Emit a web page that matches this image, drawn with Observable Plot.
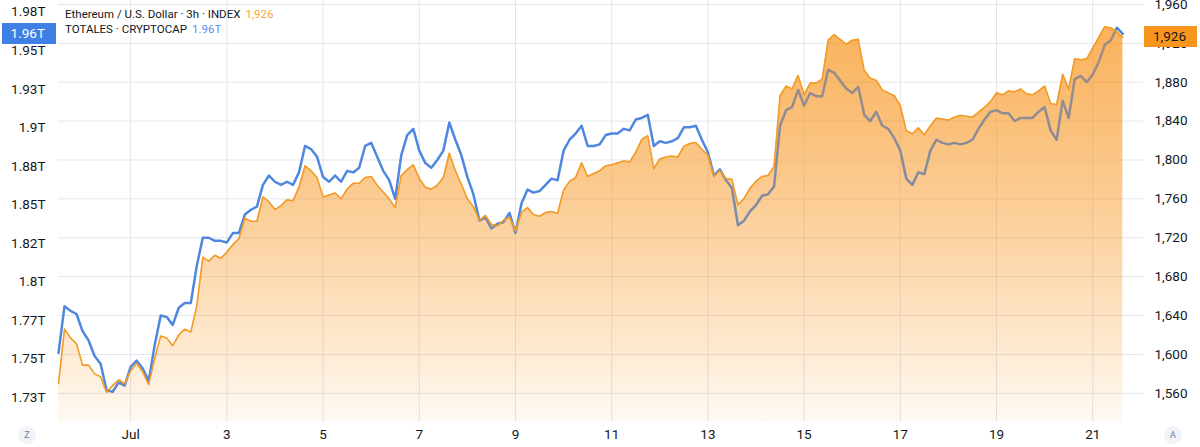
<!DOCTYPE html>
<html>
<head>
<meta charset="utf-8">
<script src="https://cdn.jsdelivr.net/npm/d3@7"></script>
<script src="https://cdn.jsdelivr.net/npm/@observablehq/plot@0.6"></script>
<style>
  body { margin: 0; background: #fff; overflow: hidden; }
  #wrap { position: relative; width: 1200px; height: 447px; font-family: Roboto, sans-serif; }
  #chart svg { display: block; }
  .legend { position: absolute; left: 65px; top: 7px; font-size: 11.5px; line-height: 15px; color: #131722; white-space: nowrap; }
  .legend span { margin-left: 5px; }
  .tag { position: absolute; height: 21px; line-height: 21px; font-size: 13.5px; box-sizing: border-box; }
  .icon { position: absolute; width: 18px; height: 18px; border-radius: 9px; background: #f0f3fa; color: #787b86;
          font-size: 9px; line-height: 18px; text-align: center; }
</style>
</head>
<body>
<div id="wrap">
  <div id="chart"></div>
</div>
<script>
// 3h bars, from Jun 29 12:00 UTC
const start = Date.UTC(2023, 5, 29, 12)
const step = 3 * 3600 * 1000

// Ethereum / U.S. Dollar (right scale)
const ethValues = [
  1570, 1626, 1617, 1611, 1589, 1589, 1580, 1577, 1561, 1568,
  1574, 1570, 1583, 1591, 1582, 1569, 1596, 1619, 1617, 1609,
  1620, 1626, 1623, 1650, 1700, 1696, 1702, 1699, 1705, 1713,
  1719, 1740, 1737, 1737, 1762, 1757, 1749, 1753, 1759, 1758,
  1772, 1794, 1789, 1782, 1762, 1764, 1766, 1760, 1770, 1776,
  1776, 1782, 1783, 1774, 1767, 1760, 1751, 1784, 1790, 1795,
  1781, 1772, 1770, 1774, 1782, 1807, 1789, 1775, 1760, 1752,
  1738, 1743, 1734, 1732, 1738, 1741, 1727, 1746, 1751, 1744,
  1742, 1746, 1747, 1745, 1769, 1778, 1782, 1797, 1783, 1786,
  1789, 1794, 1795, 1797, 1799, 1798, 1808, 1821, 1825, 1791,
  1801, 1803, 1804, 1803, 1814, 1817, 1818, 1811, 1805, 1783,
  1789, 1781, 1780, 1754, 1760, 1771, 1778, 1783, 1784, 1793,
  1866, 1876, 1873, 1887, 1867, 1879, 1879, 1883, 1923, 1929,
  1924, 1919, 1923, 1924, 1892, 1884, 1882, 1872, 1869, 1866,
  1856, 1830, 1827, 1833, 1826, 1835, 1843, 1842, 1841, 1844,
  1846, 1845, 1844, 1849, 1854, 1860, 1869, 1867, 1871, 1870,
  1873, 1868, 1867, 1871, 1876, 1858, 1857, 1888, 1873, 1904,
  1903, 1904, 1915, 1926, 1937, 1936, 1932, 1926
]

// TOTALES crypto market cap, in trillions (left scale)
const totalValues = [
  1.756, 1.786, 1.783, 1.781, 1.770, 1.764, 1.754, 1.749, 1.732, 1.731,
  1.737, 1.735, 1.747, 1.751, 1.746, 1.738, 1.761, 1.780, 1.779, 1.774,
  1.785, 1.788, 1.788, 1.812, 1.830, 1.830, 1.828, 1.828, 1.827, 1.833,
  1.833, 1.845, 1.848, 1.850, 1.864, 1.870, 1.866, 1.864, 1.866, 1.864,
  1.872, 1.889, 1.887, 1.882, 1.869, 1.866, 1.870, 1.866, 1.873, 1.872,
  1.875, 1.889, 1.891, 1.882, 1.873, 1.867, 1.855, 1.883, 1.896, 1.900,
  1.886, 1.878, 1.875, 1.880, 1.886, 1.904, 1.893, 1.883, 1.869, 1.858,
  1.841, 1.843, 1.836, 1.839, 1.840, 1.846, 1.833, 1.852, 1.861, 1.859,
  1.860, 1.864, 1.868, 1.867, 1.886, 1.893, 1.897, 1.902, 1.889, 1.889,
  1.890, 1.896, 1.897, 1.897, 1.900, 1.899, 1.906, 1.907, 1.909, 1.889,
  1.892, 1.891, 1.892, 1.894, 1.901, 1.901, 1.902, 1.893, 1.885, 1.870,
  1.874, 1.867, 1.862, 1.838, 1.841, 1.847, 1.851, 1.857, 1.858, 1.863,
  1.902, 1.912, 1.914, 1.925, 1.915, 1.923, 1.921, 1.921, 1.938, 1.936,
  1.931, 1.926, 1.923, 1.927, 1.909, 1.905, 1.911, 1.902, 1.900, 1.894,
  1.886, 1.868, 1.864, 1.872, 1.871, 1.886, 1.893, 1.891, 1.890, 1.891,
  1.890, 1.891, 1.893, 1.900, 1.906, 1.911, 1.912, 1.910, 1.910, 1.905,
  1.907, 1.907, 1.907, 1.911, 1.914, 1.899, 1.893, 1.918, 1.907, 1.932,
  1.934, 1.930, 1.935, 1.943, 1.954, 1.957, 1.965, 1.961
]

const dayTicks = [1, 3, 5, 7, 9, 11, 13, 15, 17, 19, 21]
const ethTicks = [1560, 1600, 1640, 1680, 1720, 1760, 1800, 1840, 1880, 1920, 1960]
const totalTickValues = [1.727, 1.752, 1.777, 1.802, 1.826, 1.851, 1.876, 1.901, 1.925, 1.950, 1.975]
const totalTickLabels = ['1.73T', '1.75T', '1.77T', '1.8T', '1.82T', '1.85T', '1.88T', '1.9T', '1.93T', '1.95T', '1.98T']

// left scale sits on the right one: 1.73T <-> 1,560 and 1.98T <-> 1,960
const totalToEth = t => 1560 + (t - 1.73) * 1600

const eth = ethValues.map((value, i) => ({date: new Date(start + i * step), value}))
const total = totalValues.map((value, i) => ({date: new Date(start + i * step), value}))
const tickDates = dayTicks.map(d => new Date(Date.UTC(2023, 6, d)))
const leftTicks = totalTickValues.map((value, i) => ({value, label: totalTickLabels[i]}))

const yMin = 1530

let chart = Plot.plot({
  width: 1200,
  height: 447,
  marginTop: 0,
  marginBottom: 25,
  marginLeft: 58,
  marginRight: 57,
  style: {fontFamily: 'Roboto, sans-serif', fontSize: '13.5px', color: '#131722', background: '#fff', overflow: 'visible'},
  x: {
    type: 'utc',
    domain: [new Date(start), new Date(Date.UTC(2023, 6, 22, 1, 20))],
    ticks: tickDates,
    tickFormat: d => d.getUTCDate() === 1 ? 'Jul' : String(d.getUTCDate()),
    tickSize: 0,
    tickPadding: 7,
    label: null,
  },
  y: {
    domain: [yMin, 1964],
    axis: 'right',
    ticks: ethTicks,
    tickFormat: d3.format(','),
    tickSize: 0,
    tickPadding: 11,
    label: null,
  },
  marks: [
    Plot.ruleX(tickDates, {stroke: '#e3e5eb'}),
    Plot.ruleY(ethTicks, {stroke: '#e3e5eb'}),
    Plot.areaY(eth, {x: 'date', y1: yMin, y2: 'value', fill: 'url(#ethFillA)'}),
    Plot.line(total, {x: 'date', y: d => totalToEth(d.value), stroke: '#4f87e0', strokeWidth: 2.5}),
    Plot.areaY(eth, {x: 'date', y1: yMin, y2: 'value', fill: 'url(#ethFillB)'}),
    Plot.line(eth, {x: 'date', y: 'value', stroke: '#f29b26', strokeWidth: 1.6}),
    Plot.text(leftTicks, {
      y: d => totalToEth(d.value), text: 'label',
      frameAnchor: 'left', textAnchor: 'end', dx: -13,
      fontSize: 13.5, fill: '#131722',
    }),
  ],
})

// two gradient layers, one under and one over the blue line
const defs = d3.select(chart).insert('defs', ':first-child')
function gradient(id, top, bottom) {
  const g = defs.append('linearGradient').attr('id', id)
    .attr('x1', 0).attr('y1', 0).attr('x2', 0).attr('y2', 1)
  g.append('stop').attr('offset', '0%').attr('stop-color', '#f7931a').attr('stop-opacity', top)
  g.append('stop').attr('offset', '100%').attr('stop-color', '#f7931a').attr('stop-opacity', bottom)
}
gradient('ethFillA', 0.42, 0.02)
gradient('ethFillB', 0.5, 0.03)

d3.select('#chart').append(() => chart)

// overlays: legend, last value tags, corner buttons
const wrap = d3.select('#wrap')
const y = chart.scale('y')
const lastEth = ethValues[ethValues.length - 1]
const lastTotal = totalValues[totalValues.length - 1]

const legend = wrap.append('div').attr('class', 'legend')
legend.append('div').html('Ethereum / U.S. Dollar · 3h · INDEX')
  .append('span').style('color', '#f5a53c').text(d3.format(',')(lastEth))
legend.append('div').html('TOTALES · CRYPTOCAP')
  .append('span').style('color', '#5b8def').text(lastTotal.toFixed(2) + 'T')

const yTotal = y.apply(totalToEth(lastTotal))
wrap.append('div').attr('class', 'tag')
  .style('left', '2px').style('width', '54px').style('top', (yTotal - 10.5) + 'px')
  .style('background', '#3f80e6').style('color', '#fff')
  .style('text-align', 'right').style('padding-right', '11px')
  .text(lastTotal.toFixed(2) + 'T')

const yEth = y.apply(lastEth)
wrap.append('div').attr('class', 'tag')
  .style('left', '1144px').style('width', '53px').style('top', (yEth - 10.5) + 'px')
  .style('background', '#f8951d').style('color', '#131722')
  .style('padding-left', '9px')
  .text(d3.format(',')(lastEth))

wrap.append('div').attr('class', 'icon').style('left', '18px').style('top', '426px').text('Z')
wrap.append('div').attr('class', 'icon').style('left', '1164px').style('top', '426px').text('A')
</script>
</body>
</html>
